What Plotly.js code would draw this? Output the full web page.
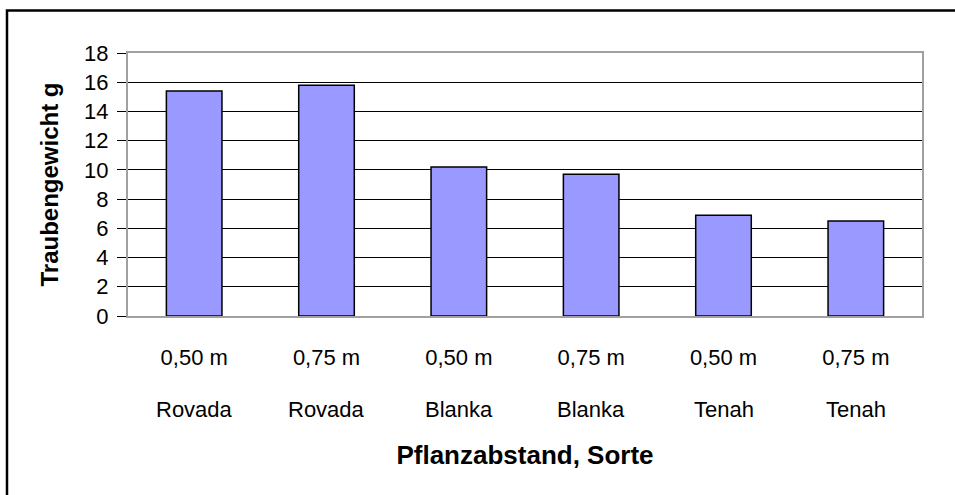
<!DOCTYPE html>
<html>
<head>
<meta charset="utf-8">
<script src="https://cdn.plot.ly/plotly-3.0.1.min.js"></script>
<style>html,body{margin:0;padding:0;background:#fff;}#chart{width:955px;height:495px;}</style>
</head>
<body>
<div id="chart"></div>
<script>
const abstand = ["0,50 m", "0,75 m", "0,50 m", "0,75 m", "0,50 m", "0,75 m"];
const sorte = ["Rovada", "Rovada", "Blanka", "Blanka", "Tenah", "Tenah"];
const gewicht = [15.4, 15.8, 10.2, 9.7, 6.9, 6.5];
const yTicks = [0, 2, 4, 6, 8, 10, 12, 14, 16, 18];

const idx = abstand.map((_, i) => i);
const font = "Liberation Sans, Arial, sans-serif";

const trace = {
  type: "bar",
  x: idx,
  y: gewicht,
  width: 0.42,
  marker: {color: "#9999FF", line: {color: "#000000", width: 1.5}},
  hoverinfo: "x+y"
};

const annotations = idx.map(i => ({
  x: i, xref: "x", y: -0.357, yref: "paper",
  text: sorte[i], showarrow: false,
  font: {family: font, size: 22, color: "#000"},
  xanchor: "center", yanchor: "middle"
}));

const layout = {
  width: 955, height: 495,
  margin: {l: 128, r: 33, t: 53, b: 179},
  paper_bgcolor: "#ffffff", plot_bgcolor: "#ffffff",
  showlegend: false,
  font: {family: font, color: "#000"},
  xaxis: {
    range: [-0.5, 5.5],
    tickvals: idx, ticktext: abstand,
    ticks: "", showgrid: false, zeroline: false,
    showline: true, linecolor: "#a0a0a0", linewidth: 2, mirror: true,
    tickfont: {family: font, size: 22, color: "#000"},
    ticklabelstandoff: 21,
    title: {text: "<b>Pflanzabstand, Sorte</b>", font: {family: font, size: 26, color: "#000"}, standoff: 76}
  },
  yaxis: {
    range: [0, 18], tickvals: yTicks, ticktext: yTicks.map(String),
    ticks: "outside", ticklen: 9, tickcolor: "#000", tickwidth: 1,
    showgrid: true, gridcolor: "#000000", gridwidth: 1,
    zeroline: false,
    showline: true, linecolor: "#a0a0a0", linewidth: 2, mirror: true,
    tickfont: {family: font, size: 22, color: "#000"},
    ticklabelstandoff: 4,
    title: {text: "<b>Traubengewicht g</b>", font: {family: font, size: 24, color: "#000"}, standoff: 19}
  },
  annotations: annotations,
  shapes: [{
    type: "rect", xref: "paper", yref: "paper",
    x0: -0.1524, x1: 1.2, y0: -0.9, y1: 1.1616,
    line: {color: "#000", width: 2.5}, fillcolor: "rgba(0,0,0,0)", layer: "below"
  }]
};

Plotly.newPlot("chart", [trace], layout, {displayModeBar: false, staticPlot: true});
</script>
</body>
</html>
